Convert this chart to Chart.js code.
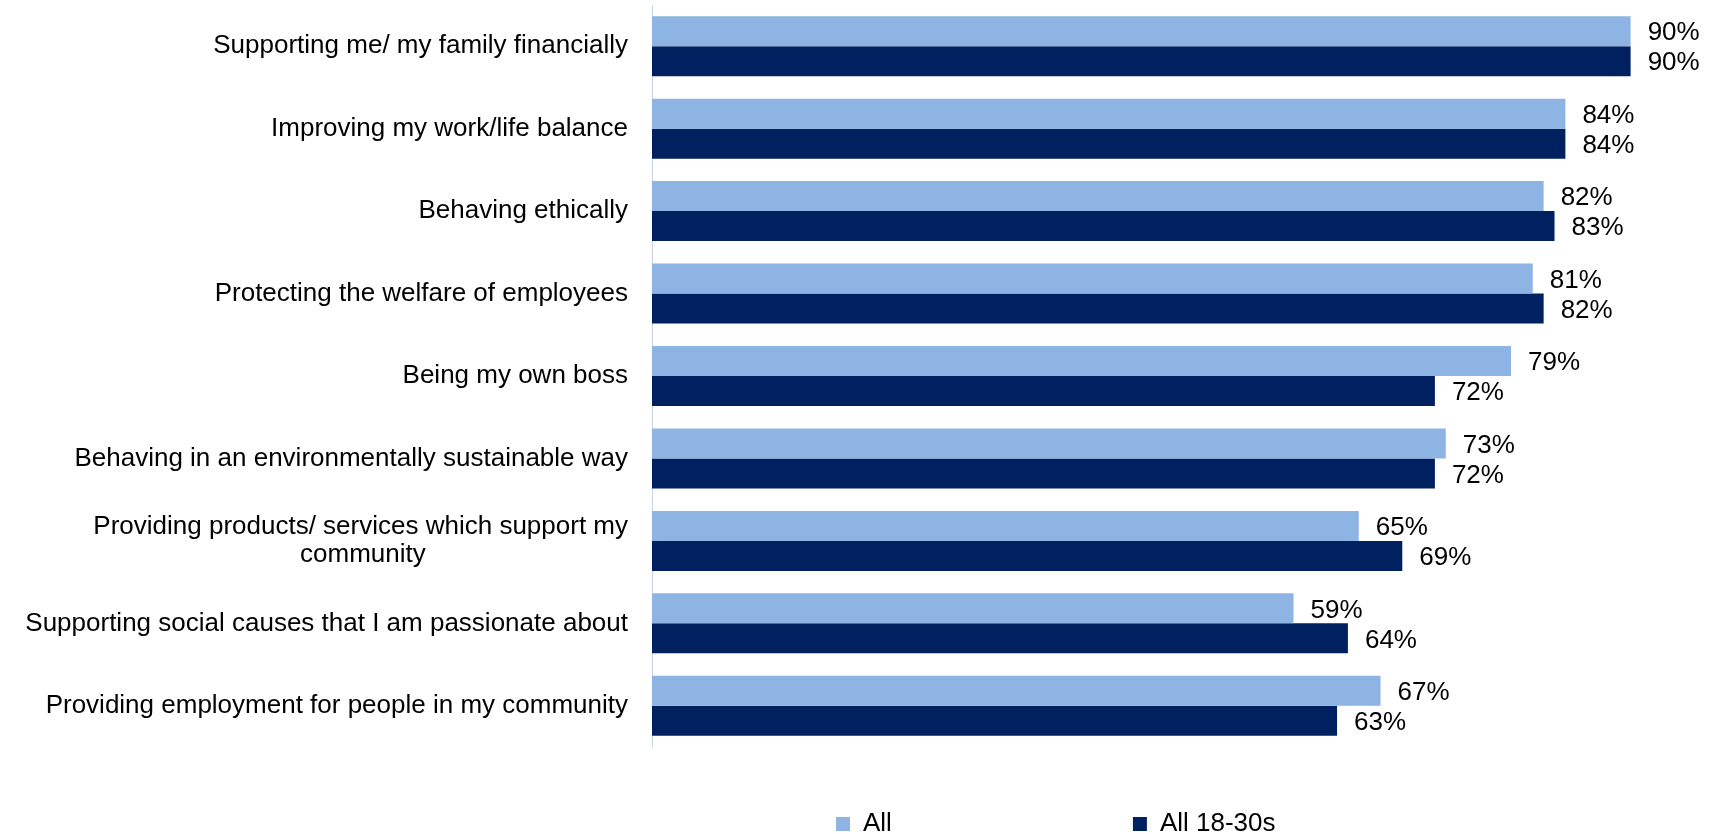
<!DOCTYPE html>
<html>
<head>
<meta charset="utf-8">
<script src="https://cdn.jsdelivr.net/npm/chart.js@4/dist/chart.umd.min.js"></script>
<style>
  html, body { margin: 0; padding: 0; background: #fff; }
  #wrap { width: 1717px; height: 834px; }
</style>
</head>
<body>
<div id="wrap"><canvas id="chart-display" width="1717" height="834"></canvas></div>
<script>
var categories = [
    'Supporting me/ my family financially',
    'Improving my work/life balance',
    'Behaving ethically',
    'Protecting the welfare of employees',
    'Being my own boss',
    'Behaving in an environmentally sustainable way',
    ['Providing products/ services which support my', 'community'],
    'Supporting social causes that I am passionate about',
    'Providing employment for people in my community'
];
var seriesNames = ['All', 'All 18-30s'];
var allValues = [90, 84, 82, 81, 79, 73, 65, 59, 67];
var youngValues = [90, 84, 83, 82, 72, 72, 69, 64, 63];

var FONT = 'Liberation Sans, Arial, sans-serif';
var ctx = document.getElementById('chart-display');

// used to centre the second line of a wrapped label under the first one
var measure = document.createElement('canvas').getContext('2d');
measure.font = '26px ' + FONT;

function centreLines(label) {
    if (!Array.isArray(label)) return label;
    var widest = Math.max.apply(null, label.map(function(l) { return measure.measureText(l).width; }));
    var space = measure.measureText(' ').width;
    return label.map(function(l) {
        var n = Math.round((widest - measure.measureText(l).width) / 2 / space);
        return l + ' '.repeat(n);
    });
}

// draws "90%" etc. next to each bar
var valueLabels = {
    id: 'valueLabels',
    afterDatasetsDraw: function(chart) {
        var c = chart.ctx;
        c.save();
        c.font = '26px ' + FONT;
        c.fillStyle = '#000';
        c.textAlign = 'left';
        c.textBaseline = 'middle';
        chart.data.datasets.forEach(function(ds, i) {
            chart.getDatasetMeta(i).data.forEach(function(bar, j) {
                c.fillText(ds.data[j] + '%', bar.x + 17, bar.y + 2);
            });
        });
        c.restore();
    }
};

// legend sits off-centre under the plot, like the original
var legendPlace = {
    id: 'legendPlace',
    afterLayout: function(chart) {
        var lg = chart.legend;
        var pad = lg.options.labels.padding;
        lg.left = 836 - pad;
        lg.right = lg.left + 1717;
        lg.top = 811 - pad;
        lg.bottom = 834;
    }
};

new Chart(ctx, {
    type: 'bar',
    data: {
        labels: categories,
        datasets: [{
            label: seriesNames[0],
            data: allValues,
            backgroundColor: '#8EB4E3',
            borderWidth: 0
        }, {
            label: seriesNames[1],
            data: youngValues,
            backgroundColor: '#002060',
            borderWidth: 0
        }]
    },
    options: {
        indexAxis: 'y',
        responsive: false,
        animation: false,
        categoryPercentage: 0.728,
        barPercentage: 1,
        layout: { padding: { top: 5, right: 32, bottom: 41, left: 0 } },
        scales: {
            x: {
                display: false,
                min: 0,
                max: 95
            },
            y: {
                grid: { display: false, drawTicks: false },
                border: { display: true, color: '#C9D3E3', width: 1 },
                ticks: {
                    color: '#000',
                    padding: 24,
                    font: { family: FONT, size: 26, lineHeight: 1.1 },
                    callback: function(value) {
                        return centreLines(this.getLabelForValue(value));
                    }
                },
                afterFit: function(scale) {
                    scale.width = 652;
                    scale.paddingTop = 0;
                    scale.paddingBottom = 0;
                }
            }
        },
        plugins: {
            tooltip: { enabled: false },
            legend: {
                position: 'bottom',
                align: 'start',
                maxHeight: 46,
                labels: {
                    color: '#000',
                    boxWidth: 14,
                    boxHeight: 14,
                    padding: 241,
                    font: { family: FONT, size: 26 }
                }
            }
        }
    },
    plugins: [valueLabels, legendPlace]
});
</script>
</body>
</html>
